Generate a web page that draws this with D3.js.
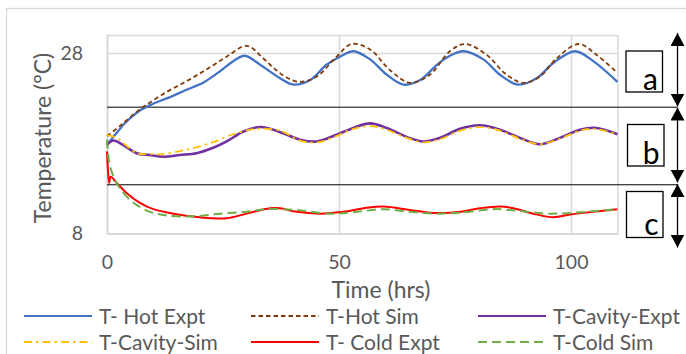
<!DOCTYPE html>
<html>
<head>
<meta charset="utf-8">
<script src="https://cdn.jsdelivr.net/npm/d3@7"></script>
<style>
  body { margin: 0; background: #fff; }
  text { font-family: Lato, "Open Sans", sans-serif; fill: #595959; }
</style>
</head>
<body>
<div id="chart"></div>
<script>
// [hrs, degC]
var hotExpt = [[0,17.8],[2,19.1],[4,20.3],[7,21.6],[10,22.4],[13,23.0],[17,23.9],[21,24.8],[24.4,26.0],[27.2,27.1],[29.7,27.7],[33,26.7],[35,26.0],[37.3,25.2],[40.2,24.5],[43.8,25.0],[47.3,26.7],[50.2,27.6],[53.1,28.2],[56.7,27.3],[60.3,25.6],[63.9,24.5],[67.5,25.0],[71.1,26.7],[73.9,27.7],[76.8,28.2],[81.1,27.3],[84.7,25.6],[88.6,24.5],[92.6,25.2],[96.2,26.9],[100.9,28.2],[104.8,27.1],[110,24.8]];
var hotSim = [[0,18.8],[3,20.0],[5.7,21.2],[8.6,22.3],[12.9,23.7],[17.2,24.9],[21.5,26.2],[25.8,27.6],[30.1,28.8],[33.7,27.4],[36,26.3],[38.7,25.3],[41.6,24.8],[45.2,25.4],[49.5,27.6],[52.7,29.0],[56.7,28.4],[61,26.1],[65.3,24.7],[69.6,25.6],[73.9,28.2],[77.2,29.0],[81.8,27.8],[86.1,25.6],[89.7,24.7],[93.3,25.4],[96.9,27.4],[101.6,29.0],[105.5,27.8],[110,25.8]];
var cavityExpt = [[0,17.8],[1.4,18.3],[3.5,17.8],[6.4,16.9],[9.3,16.7],[12.1,16.5],[15.7,16.7],[19.3,16.9],[22.9,17.5],[25.8,18.2],[29.4,19.3],[33,19.8],[35.1,19.6],[38,19.1],[41.6,18.4],[45.2,18.2],[48.8,18.8],[53.1,19.7],[56.7,20.2],[60.3,19.7],[64.6,18.7],[68.2,18.2],[71.8,18.6],[76.1,19.6],[80.4,20.0],[84.7,19.5],[89,18.6],[93.3,17.9],[97.6,18.6],[101.9,19.5],[105.5,19.7],[110,19.0]];
var cavitySim = [[0,18.9],[2.1,18.6],[4,17.8],[6.4,16.9],[9.3,16.8],[12.1,16.8],[17.2,17.3],[22.2,18.0],[27.2,19.0],[32.2,19.6],[37.3,19.4],[41.6,18.3],[45.2,18.1],[49,18.7],[53.1,19.6],[56.7,19.9],[60.3,19.5],[64.6,18.6],[68.2,18.1],[72,18.5],[76.1,19.4],[80.4,19.8],[84.7,19.4],[89,18.5],[93.3,17.9],[97.6,18.5],[101.9,19.4],[104.8,19.6],[110,19.0]];
var coldExpt = [[0,17.1],[0.3,14.3],[0.5,13.6],[0.8,14.3],[2.1,13.6],[4.2,12.5],[7.1,11.4],[10,10.7],[14.3,10.2],[20,9.8],[25.8,9.7],[30.1,10.2],[35.1,10.8],[37.3,10.8],[40.9,10.4],[45.9,10.2],[50.9,10.4],[55.3,10.8],[59.6,11.0],[65.3,10.6],[69.6,10.3],[73.9,10.3],[76.1,10.4],[80.4,10.8],[84.7,11.0],[87.6,10.8],[91.9,10.2],[96.2,9.8],[99.8,10.1],[104.8,10.4],[110,10.7]];
var coldSim = [[0,18.4],[0.5,15.8],[1.4,14.3],[2.8,13.0],[5.7,11.4],[9.3,10.4],[12.9,10.0],[18.6,9.9],[24.4,10.2],[30.1,10.4],[34.5,10.7],[40.9,10.6],[48.1,10.2],[53.8,10.4],[59.6,10.7],[65.3,10.4],[71.1,10.2],[76.1,10.3],[83.3,10.7],[89,10.5],[94.8,10.2],[100.5,10.3],[110,10.7]];

var seriesNames = ["T- Hot Expt", "T-Hot Sim", "T-Cavity-Expt", "T-Cavity-Sim", "T- Cold Expt", "T-Cold Sim"];
var xTicks = [0, 50, 100];
var yTicks = [8, 28];
var bandLimits = [22, 13.4];   // black separator lines
var bandLabels = ["a", "b", "c"];

var W = 686, H = 354;
var svg = d3.select("#chart").append("svg").attr("width", W).attr("height", H);

var x = d3.scaleLinear().domain([0, 110]).range([107, 617.4]);
var y = d3.scaleLinear().domain([8, 30]).range([233.5, 35]);

// outer chart frame
svg.append("rect").attr("x", 6.5).attr("y", 8.5).attr("width", 700).attr("height", 400)
    .attr("fill", "none").attr("stroke", "#d9d9d9").attr("stroke-width", 1.3);

// x axis with vertical gridlines
var gx = svg.append("g").attr("transform", "translate(0," + y(8) + ")")
    .call(d3.axisBottom(x).tickValues(xTicks).tickSize(-(y(8) - y(30))).tickPadding(22));
gx.select(".domain").attr("stroke", "#d9d9d9").attr("stroke-width", 1.5);
gx.selectAll(".tick line").attr("stroke", "#d9d9d9").attr("stroke-width", 1.5);

// y axis with horizontal gridlines
var gy = svg.append("g").attr("transform", "translate(" + x(0) + ",0)")
    .call(d3.axisLeft(y).tickValues(yTicks).tickSize(-(x(110) - x(0))).tickPadding(24));
gy.select(".domain").attr("stroke", "#d9d9d9").attr("stroke-width", 1.5);
gy.selectAll(".tick line").attr("stroke", "#d9d9d9").attr("stroke-width", 1.5);

svg.selectAll(".tick text")
    .style("font-family", "Lato").style("font-size", "19.5px").attr("fill", "#595959");

// axis titles
svg.append("text").attr("x", 381).attr("y", 298).attr("text-anchor", "middle")
    .style("font-size", "23px").text("Time (hrs)");
svg.append("text").attr("transform", "translate(51,138) rotate(-90)").attr("text-anchor", "middle")
    .style("font-size", "23px").text("Temperature (°C)");

// separator lines
svg.selectAll(".sep").data(bandLimits).enter().append("line")
    .attr("class", "sep")
    .attr("x1", x(0)).attr("x2", 677)
    .attr("y1", d => y(d)).attr("y2", d => y(d))
    .attr("stroke", "#000").attr("stroke-width", 1);

var styles = [
    { data: hotExpt, color: "#4472C4", width: 2.3, dash: null },
    { data: hotSim, color: "#843C0C", width: 1.8, dash: "4.5 3" },
    { data: cavityExpt, color: "#7030A0", width: 2.6, dash: null },
    { data: cavitySim, color: "#FFC000", width: 1.8, dash: "8 4 2.5 4" },
    { data: coldExpt, color: "#FF0000", width: 2, dash: null },
    { data: coldSim, color: "#70AD47", width: 2, dash: "9 5" }
];

var line = d3.line().x(d => x(d[0])).y(d => y(d[1])).curve(d3.curveCatmullRom.alpha(0.5));

svg.selectAll(".series").data(styles).enter().append("path")
    .attr("class", "series")
    .attr("d", d => line(d.data))
    .attr("fill", "none")
    .attr("stroke", d => d.color)
    .attr("stroke-width", d => d.width)
    .attr("stroke-dasharray", d => d.dash)
    .attr("stroke-linejoin", "round");

// legend
var legX = [24, 251, 478], legY = [316, 342];
var leg = svg.selectAll(".leg").data(styles).enter().append("g")
    .attr("class", "leg")
    .attr("transform", (d, i) => "translate(" + legX[i % 3] + "," + legY[Math.floor(i / 3)] + ")");
leg.append("line").attr("x1", 0).attr("x2", 68).attr("y1", 0).attr("y2", 0)
    .attr("stroke", d => d.color).attr("stroke-width", d => Math.min(d.width, 2.2))
    .attr("stroke-dasharray", d => d.dash);
leg.append("text").attr("x", 75).attr("y", 7.5).style("font-size", "21px")
    .text((d, i) => seriesNames[i]);

// band boxes
var boxes = [[626, 51, 92], [627.5, 124.5, 166], [626.5, 191.5, 237.5]];
var bx = svg.selectAll(".box").data(boxes).enter().append("g").attr("class", "box");
bx.append("rect").attr("x", d => d[0]).attr("y", d => d[1])
    .attr("width", 36.5).attr("height", d => d[2] - d[1])
    .attr("fill", "#fff").attr("stroke", "#000").attr("stroke-width", 1.3);
bx.append("text").attr("x", d => d[0] + 32).attr("y", d => d[2] - 2.5)
    .attr("text-anchor", "end").style("font-size", "30px").style("fill", "#000")
    .text((d, i) => bandLabels[i]);

// double arrows
var defs = svg.append("defs");
defs.append("marker").attr("id", "tri")
    .attr("viewBox", "0 0 13 14").attr("refX", 13).attr("refY", 7)
    .attr("markerWidth", 13).attr("markerHeight", 14)
    .attr("markerUnits", "userSpaceOnUse")
    .attr("orient", "auto-start-reverse")
    .append("path").attr("d", "M0,0L13,7L0,14Z").attr("fill", "#000");

var arrows = [[33, 106.5], [107.5, 182.5], [184, 247.5]];
svg.selectAll(".arr").data(arrows).enter().append("line")
    .attr("class", "arr")
    .attr("x1", 677.5).attr("x2", 677.5)
    .attr("y1", d => d[0]).attr("y2", d => d[1])
    .attr("stroke", "#000").attr("stroke-width", 1.3)
    .attr("marker-start", "url(#tri)").attr("marker-end", "url(#tri)");
</script>
</body>
</html>
